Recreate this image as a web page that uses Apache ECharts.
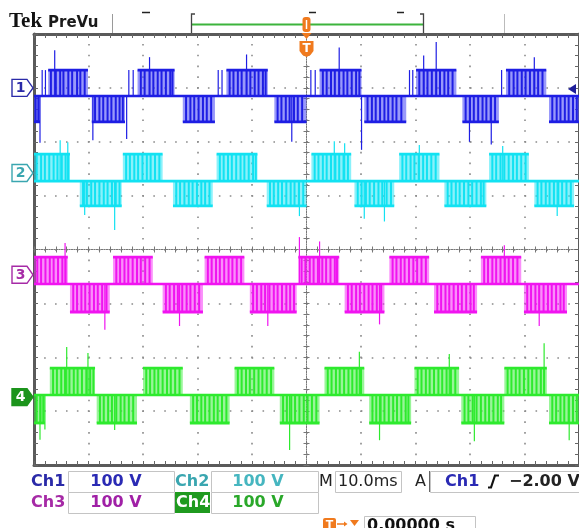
<!DOCTYPE html>
<html><head><meta charset="utf-8">
<script src="https://cdn.jsdelivr.net/npm/echarts@6/dist/echarts.min.js"></script>
<style>html,body{margin:0;padding:0;background:#fff;}#c{width:579px;height:528px;}</style>
</head><body><div id="c"></div>
<script>
// ---------------- data ----------------
// time axis: 10 ms/div, trigger at centre
const timeMin = -50, timeMax = 50, timeDiv = 10;
const vertDivs = 4;            // +/-4 divisions
const voltsPerDiv = 100;
const channelNames = ['Ch1', 'Ch2', 'Ch3', 'Ch4'];
const channelScales = ['100 V', '100 V', '100 V', '100 V'];
const groundDiv = [3.0, 1.42, -0.47, -2.74];   // channel ground markers (divisions)
const timebaseText = '10.0ms';
const triggerSource = 'Ch1';
const triggerLevelV = -2.0;
const triggerLevelText = '\u22122.00 V';
const triggerPosText = '0.00000 s';

// levels in volts: [high, mid, low]
const ch1Levels = [33, -15, -63];
const ch2Levels = [35, -15, -61];
const ch3Levels = [33, -17, -69];
const ch4Levels = [54, 4, -48];

// switching blocks: [start ms, end ms, +1 = high block / -1 = low block]
const ch1Blocks = [[-50,-48.9,-1],[-47.4,-40.1,1],[-39.4,-33.3,-1],[-31.0,-24.2,1],[-22.7,-16.8,-1],[-14.7,-7.1,1],[-5.9,0.0,-1],[2.4,10.1,1],[10.6,18.3,-1],[20.1,27.5,1],[28.6,35.3,-1],[36.6,44.0,1],[44.5,50,-1]];
const ch2Blocks = [[-50,-43.4,1],[-41.6,-33.9,-1],[-33.7,-26.4,1],[-24.5,-17.2,-1],[-16.5,-9.0,1],[-7.3,0.0,-1],[0.9,8.2,1],[8.8,16.1,-1],[17.0,24.4,1],[25.3,33.0,-1],[33.5,40.8,1],[41.8,49.1,-1]];
const ch3Blocks = [[-50,-43.8,1],[-43.4,-36.1,-1],[-35.5,-28.2,1],[-26.4,-19.0,-1],[-18.7,-11.4,1],[-10.4,-1.8,-1],[-1.5,6.0,1],[7.0,14.3,-1],[15.2,22.5,1],[23.4,31.3,-1],[32.0,39.4,1],[39.9,47.8,-1]];
const ch4Blocks = [[-50,-48.0,-1],[-47.1,-38.8,1],[-38.5,-31.1,-1],[-30.0,-22.7,1],[-21.4,-14.1,-1],[-13.2,-5.9,1],[-4.9,2.4,-1],[3.3,10.6,1],[11.5,19.2,-1],[19.8,28.0,1],[28.4,36.3,-1],[36.3,44.1,1],[44.5,50,-1]];

// PWM switching instants (ms) inside the blocks: signal drops back to the mid level
const ch1Teeth = [-49.7,-49.2,-46.9,-46.0,-45.2,-44.6,-43.7,-43.0,-42.1,-41.5,-40.7,-38.8,-38.0,-37.3,-36.5,-35.8,-35.0,-34.3,-33.7,-30.4,-29.7,-28.8,-28.1,-27.3,-26.6,-25.8,-25.0,-24.6,-22.1,-21.3,-20.6,-19.8,-19.0,-18.3,-17.5,-14.1,-13.4,-12.6,-11.9,-11.0,-10.3,-9.5,-8.8,-8.0,-7.5,-5.3,-4.6,-3.8,-3.1,-2.3,-1.6,-0.8,3.0,3.7,4.5,5.2,6.0,6.8,7.5,8.3,9.1,9.7,11.2,12.0,12.7,13.5,14.3,15.0,15.8,16.5,17.4,20.7,21.5,22.2,23.0,23.8,24.5,25.3,26.0,26.8,29.2,30.0,30.7,31.5,32.3,33.0,33.8,34.6,37.2,38.0,38.7,39.5,40.2,41.0,41.8,42.5,43.3,45.1,45.9,46.6,47.4,48.1,48.9,49.6];
const ch2Teeth = [-49.5,-48.7,-48.0,-47.2,-46.4,-45.7,-44.9,-44.2,-43.7,-41.0,-40.3,-39.5,-38.8,-38.0,-37.2,-36.5,-35.7,-35.0,-34.3,-33.1,-32.4,-31.6,-30.9,-30.1,-29.3,-28.6,-27.8,-27.0,-23.9,-23.2,-22.4,-21.6,-20.9,-20.1,-19.3,-18.6,-17.8,-15.9,-15.2,-14.4,-13.7,-12.9,-12.1,-11.4,-10.6,-9.8,-9.3,-6.7,-6.0,-5.2,-4.5,-3.7,-2.9,-2.2,-1.4,-0.6,1.5,2.2,3.0,3.7,4.5,5.3,6.0,6.8,7.6,9.4,10.1,10.9,11.6,12.4,13.2,13.9,14.7,15.5,17.6,18.3,19.1,19.8,20.6,21.4,22.1,22.9,23.7,25.9,26.6,27.4,28.1,28.9,29.7,30.4,31.2,32.0,32.5,34.1,34.8,35.6,36.3,37.1,37.9,38.6,39.4,40.2,42.4,43.1,43.9,44.6,45.4,46.2,46.9,47.7,48.5];
const ch3Teeth = [-49.4,-48.7,-47.9,-47.1,-46.4,-45.6,-44.8,-44.2,-42.8,-42.1,-41.3,-40.6,-39.8,-39.0,-38.3,-37.5,-36.7,-34.9,-34.2,-33.4,-32.7,-31.9,-31.1,-30.4,-29.6,-28.8,-25.8,-25.1,-24.3,-23.6,-22.8,-22.0,-21.3,-20.5,-19.7,-18.1,-17.4,-16.6,-15.9,-15.1,-14.3,-13.6,-12.8,-12.0,-9.8,-9.1,-8.3,-7.6,-6.8,-6.0,-5.3,-4.5,-3.7,-3.0,-2.3,-0.9,-0.2,0.6,1.3,2.1,2.9,3.6,4.4,5.2,5.6,7.6,8.3,9.1,9.8,10.6,11.4,12.1,12.9,13.7,15.8,16.5,17.3,18.0,18.8,19.6,20.3,21.1,21.9,24.0,24.7,25.5,26.2,27.0,27.8,28.5,29.3,30.1,30.7,32.6,33.3,34.1,34.8,35.6,36.4,37.1,37.9,38.7,40.5,41.2,42.0,42.7,43.5,44.3,45.0,45.8,46.6,47.2];
const ch4Teeth = [-49.5,-48.8,-48.3,-46.5,-45.8,-45.0,-44.3,-43.5,-42.7,-42.0,-41.2,-40.4,-39.7,-39.1,-37.9,-37.2,-36.4,-35.7,-34.9,-34.1,-33.4,-32.6,-31.8,-29.4,-28.7,-27.9,-27.2,-26.4,-25.6,-24.9,-24.1,-23.3,-20.8,-20.1,-19.3,-18.6,-17.8,-17.0,-16.3,-15.5,-14.7,-12.6,-11.9,-11.1,-10.4,-9.6,-8.8,-8.1,-7.3,-6.5,-4.3,-3.6,-2.8,-2.1,-1.3,-0.5,0.2,1.0,1.8,3.9,4.6,5.4,6.1,6.9,7.7,8.4,9.2,10.0,12.1,12.8,13.6,14.3,15.1,15.9,16.6,17.4,18.2,18.7,20.4,21.1,21.9,22.6,23.4,24.2,24.9,25.7,26.5,27.3,29.0,29.7,30.5,31.2,32.0,32.8,33.5,34.3,35.1,35.7,36.9,37.6,38.4,39.1,39.9,40.7,41.4,42.2,43.0,43.6,45.1,45.8,46.6,47.3,48.1,48.9,49.6];

// isolated pulses / overshoot spikes from the mid level: [ms, volts]
const ch1Spikes = [[-48.5,33],[-47.9,33],[-32.6,33],[-31.8,33],[-16.2,33],[-15.5,33],[0.8,33],[1.6,33],[18.9,33],[19.5,33],[35.8,33],[-46.2,70],[-28.8,57],[-11.0,62],[6.0,75],[21.5,60],[23.8,85],[41.8,57],[-48.9,-102],[-39.2,-97],[-33.0,-95],[-2.7,-100],[10.1,-115],[29.9,-100],[33.9,-105]];
const ch2Spikes = [[-45.2,61],[-43.8,57],[5.1,59],[7.0,55],[20.7,52],[36.0,50],[-40.7,-78],[-35.2,-106],[-1.3,-80],[10.6,-85],[14.3,-90],[46.0,-80]];
const ch3Spikes = [[-44.3,59],[-1.3,70],[2.4,62],[36.3,55],[-37.0,-102],[-23.3,-95],[-7.1,-95],[13.4,-92],[42.7,-95]];
const ch4Spikes = [[-44.0,93],[-40.1,82],[9.7,84],[26.2,80],[43.6,100],[-48.9,-79],[-48.0,-60],[-35.2,-61],[-3.1,-98],[13.4,-80],[30.8,-82],[48.2,-80]];

// ---------------- styling ----------------
const traceColors = ['#1e1ee4', '#12e2f2', '#f014f0', '#2eea2e'];
const traceLight  = ['rgba(70,70,245,0.55)', 'rgba(30,228,245,0.52)', 'rgba(245,40,245,0.52)', 'rgba(60,235,60,0.52)'];
const labelColors = ['#2a2aa8', '#3aa6b0', '#a62aa6', '#22a022'];
const orange = '#f07a1e';
const FONT = '"DejaVu Sans"';

const chans = [
  {levels: ch1Levels, blocks: ch1Blocks, teeth: ch1Teeth, spikes: ch1Spikes},
  {levels: ch2Levels, blocks: ch2Blocks, teeth: ch2Teeth, spikes: ch2Spikes},
  {levels: ch3Levels, blocks: ch3Blocks, teeth: ch3Teeth, spikes: ch3Spikes},
  {levels: ch4Levels, blocks: ch4Blocks, teeth: ch4Teeth, spikes: ch4Spikes}
];

function levelAt(ch, t) {
  for (const b of ch.blocks) if (t >= b[0] && t <= b[1]) return b[2] > 0 ? ch.levels[0] : ch.levels[2];
  return ch.levels[1];
}

const chart = echarts.init(document.getElementById('c'), null, {renderer: 'canvas', width: 579, height: 528});

const gratGray = '#8a8a8a';
function borderX(pos) {
  return {
    type: 'value', min: timeMin, max: timeMax, interval: timeDiv, position: pos, gridIndex: 0,
    axisLine: {show: true, onZero: false, lineStyle: {color: '#5a5a5a', width: 3}},
    axisTick: {show: true, inside: true, length: 4, lineStyle: {color: '#666', width: 1}},
    minorTick: {show: true, splitNumber: 5, length: 4, lineStyle: {color: '#666', width: 1}},
    axisLabel: {show: false},
    splitLine: pos === 'bottom' ? {show: true, lineStyle: {color: gratGray, width: 1.6, type: [1.6, 9.18], dashOffset: 0.8}} : {show: false}
  };
}
function borderY(pos) {
  return {
    type: 'value', min: -vertDivs, max: vertDivs, interval: 1, position: pos, gridIndex: 0,
    axisLine: {show: true, onZero: false, lineStyle: {color: '#5a5a5a', width: 3}},
    axisTick: {show: true, inside: true, length: 4, lineStyle: {color: '#666', width: 1}},
    minorTick: {show: true, splitNumber: 5, length: 4, lineStyle: {color: '#666', width: 1}},
    axisLabel: {show: false},
    splitLine: pos === 'left' ? {show: true, lineStyle: {color: gratGray, width: 1.6, type: [1.6, 9.32], dashOffset: 0.8}} : {show: false}
  };
}
function centerX(inside) {
  return {
    type: 'value', min: timeMin, max: timeMax, interval: timeDiv, position: 'bottom', gridIndex: 0,
    axisLine: {show: true, onZero: true, onZeroAxisIndex: 0, lineStyle: {color: '#777', width: 1, type: [1, 1.5]}},
    axisTick: {show: true, inside: inside, length: 3, lineStyle: {color: '#777', width: 1}},
    minorTick: {show: true, splitNumber: 5, length: 3, lineStyle: {color: '#777', width: 1}},
    axisLabel: {show: false}, splitLine: {show: false}
  };
}
function centerY(inside) {
  return {
    type: 'value', min: -vertDivs, max: vertDivs, interval: 1, position: 'left', gridIndex: 0,
    axisLine: {show: true, onZero: true, onZeroAxisIndex: 0, lineStyle: {color: '#777', width: 1, type: [1, 1.5]}},
    axisTick: {show: true, inside: inside, length: 3, lineStyle: {color: '#777', width: 1}},
    minorTick: {show: true, splitNumber: 5, length: 3, lineStyle: {color: '#777', width: 1}},
    axisLabel: {show: false}, splitLine: {show: false}
  };
}
function chanY(i) {
  return {
    type: 'value', gridIndex: 0, position: 'left', show: false,
    min: (-vertDivs - groundDiv[i]) * voltsPerDiv, max: (vertDivs - groundDiv[i]) * voltsPerDiv,
    axisLine: {show: false, onZero: false}, axisTick: {show: false}, axisLabel: {show: false}, splitLine: {show: false}
  };
}

const series = [];
chans.forEach((ch, i) => {
  const yIdx = 4 + i;
  const mid = ch.levels[1];
  const color = traceColors[i];
  series.push({
    type: 'custom', xAxisIndex: 0, yAxisIndex: yIdx, silent: true, animation: false, z: 3,
    data: ch.blocks.map(b => [b[0], b[1], b[2] > 0 ? ch.levels[0] : ch.levels[2]]),
    encode: {x: [0, 1], y: 2},
    renderItem: (params, api) => {
      const a = api.coord([api.value(0), api.value(2)]);
      const b = api.coord([api.value(1), mid]);
      return {type: 'group', children: [
        {type: 'rect', shape: {x: a[0], y: Math.min(a[1], b[1]), width: b[0] - a[0], height: Math.abs(b[1] - a[1])}, style: {fill: traceLight[i]}},
        {type: 'line', shape: {x1: a[0], y1: a[1], x2: b[0], y2: a[1]}, style: {stroke: color, lineWidth: 2.8}}
      ]};
    }
  });
  series.push({
    type: 'line', xAxisIndex: 0, yAxisIndex: yIdx, silent: true, animation: false, z: 4,
    symbol: 'none', data: [[timeMin, mid], [timeMax, mid]],
    lineStyle: {color: color, width: 2.6}
  });
  const strokes = ch.teeth.map(t => [t, levelAt(ch, t), 2.0]).concat(ch.spikes.map(s => [s[0], s[1], 1.2]));
  series.push({
    type: 'custom', xAxisIndex: 0, yAxisIndex: yIdx, silent: true, animation: false, z: 5,
    data: strokes, encode: {x: 0, y: 1},
    renderItem: (params, api) => {
      const p0 = api.coord([api.value(0), mid]);
      const p1 = api.coord([api.value(0), api.value(1)]);
      return {type: 'line', shape: {x1: p0[0], y1: p0[1], x2: p1[0], y2: p1[1]}, style: {stroke: color, lineWidth: api.value(2)}};
    }
  });
});

chart.setOption({
  animation: false,
  backgroundColor: '#ffffff',
  grid: {left: 34, top: 34, width: 546, height: 431, containLabel: false, show: false},
  xAxis: [borderX('bottom'), borderX('top'), centerX(true), centerX(false)],
  yAxis: [borderY('left'), borderY('right'), centerY(true), centerY(false), chanY(0), chanY(1), chanY(2), chanY(3)],
  series: series
});

// ---------------- decorations (scope UI) ----------------
const g = [];
const cx = chart.convertToPixel({xAxisIndex: 0}, 0);
g.push({type: 'text', x: 9, y: 32, style: {text: 'Tek', font: 'bold 21px "Liberation Serif"', fill: '#111', verticalAlign: 'bottom'}});
g.push({type: 'text', x: 48, y: 31, style: {text: 'PreVu', font: 'bold 15px ' + FONT, fill: '#1a1a1a', verticalAlign: 'bottom'}});
g.push({type: 'line', shape: {x1: 112.5, y1: 14, x2: 112.5, y2: 35}, style: {stroke: '#9a9a9a', lineWidth: 1}});
g.push({type: 'line', shape: {x1: 504.5, y1: 14, x2: 504.5, y2: 35}, style: {stroke: '#bbbbbb', lineWidth: 1}});
g.push({type: 'line', shape: {x1: 191, y1: 24.5, x2: 424, y2: 24.5}, style: {stroke: '#3cb43c', lineWidth: 2}});
g.push({type: 'polyline', shape: {points: [[195, 14], [191.5, 14], [191.5, 34], [195, 34]]}, style: {stroke: '#444', lineWidth: 1.3, fill: null}});
g.push({type: 'polyline', shape: {points: [[420, 14], [423.5, 14], [423.5, 34], [420, 34]]}, style: {stroke: '#444', lineWidth: 1.3, fill: null}});
[[142, 150], [309, 316], [397, 404]].forEach(d => g.push({type: 'line', shape: {x1: d[0], y1: 12.5, x2: d[1], y2: 12.5}, style: {stroke: '#222', lineWidth: 1.5}}));
g.push({type: 'rect', shape: {x: cx - 4, y: 17, width: 8, height: 15, r: 3}, style: {fill: orange}, z: 10});
g.push({type: 'line', shape: {x1: cx, y1: 20, x2: cx, y2: 29}, style: {stroke: '#fff', lineWidth: 1.5}, z: 11});
g.push({type: 'polygon', shape: {points: [[cx - 5, 33], [cx + 5, 33], [cx, 39]]}, style: {fill: orange}, z: 10});
g.push({type: 'polygon', shape: {points: [[cx - 7, 41], [cx + 7, 41], [cx + 7, 51], [cx + 4, 55], [cx, 57], [cx - 4, 55], [cx - 7, 51]]}, style: {fill: orange}, z: 10});
g.push({type: 'text', x: cx, y: 48.5, style: {text: 'T', font: 'bold 12px ' + FONT, fill: '#fff', align: 'center', verticalAlign: 'middle'}, z: 11});

const markerDigits = ['1', '2', '3', '4'];
groundDiv.forEach((gd, i) => {
  const y = chart.convertToPixel({yAxisIndex: 0}, gd);
  const filled = i === 3;
  g.push({type: 'polygon', shape: {points: [[12, y - 8.5], [27, y - 8.5], [33, y], [27, y + 8.5], [12, y + 8.5]]},
    style: {fill: filled ? '#1c941c' : '#ffffff', stroke: filled ? '#1c941c' : labelColors[i], lineWidth: 1.4}, z: 10});
  g.push({type: 'text', x: 20.5, y: y + 0.5, style: {text: markerDigits[i], font: 'bold 14px ' + FONT, fill: filled ? '#fff' : labelColors[i], align: 'center', verticalAlign: 'middle'}, z: 11});
});
const ty = chart.convertToPixel({yAxisIndex: 4}, triggerLevelV);
g.push({type: 'polygon', shape: {points: [[568, ty], [576, ty - 5], [576, ty + 5]]}, style: {fill: '#1e1e9a'}, z: 10});

function box(x, y, w, h) { g.push({type: 'rect', shape: {x: x + 0.5, y: y + 0.5, width: w, height: h}, style: {fill: '#fff', stroke: '#c4c4c4', lineWidth: 1}}); }
function txt(s, x, y, color, font, align) { g.push({type: 'text', x: x, y: y, style: {text: s, font: font, fill: color, align: align || 'left', verticalAlign: 'middle'}, z: 5}); }
const bold16 = 'bold 16px ' + FONT, reg16 = '16px ' + FONT;
box(68, 471, 106, 21); box(211, 471, 107, 21);
box(68, 492, 106, 21); box(211, 492, 107, 21);
box(335, 471, 66, 21); box(430, 471, 160, 21);
box(364, 516, 111, 20);
txt(channelNames[0], 31, 481.5, labelColors[0], bold16);
txt(channelScales[0], 116, 481.5, '#2a2ab4', bold16, 'center');
txt(channelNames[1], 175, 481.5, labelColors[1], bold16);
txt(channelScales[1], 258, 481.5, '#46b6c0', bold16, 'center');
txt(channelNames[2], 31, 502.5, labelColors[2], bold16);
txt(channelScales[2], 116, 502.5, '#a020a6', bold16, 'center');
g.push({type: 'rect', shape: {x: 175, y: 492, width: 35, height: 21}, style: {fill: '#1f9a1f'}});
txt(channelNames[3], 176, 502.5, '#ffffff', bold16);
txt(channelScales[3], 258, 502.5, '#2aa82a', bold16, 'center');
txt('M', 319, 481.5, '#222', reg16);
txt(timebaseText, 338, 481.5, '#222', reg16);
txt('A', 415, 481.5, '#222', reg16);
g.push({type: 'line', shape: {x1: 429.5, y1: 471, x2: 429.5, y2: 492}, style: {stroke: '#666', lineWidth: 1}});
txt(triggerSource, 445, 481.5, '#2a2ab4', bold16);
g.push({type: 'polyline', shape: {points: [[488, 487.5], [491, 487.5], [495, 475.5], [499, 475.5]]}, style: {stroke: '#111', lineWidth: 2.2, fill: null}});
txt(triggerLevelText, 509, 481.5, '#222', bold16);
g.push({type: 'rect', shape: {x: 323, y: 518, width: 13, height: 14, r: [2, 2, 0, 0]}, style: {fill: orange}});
txt('T', 329.5, 525, '#fff', 'bold 11px ' + FONT, 'center');
g.push({type: 'line', shape: {x1: 337, y1: 524, x2: 345, y2: 524}, style: {stroke: orange, lineWidth: 1.5}});
g.push({type: 'polygon', shape: {points: [[344, 521.5], [347.5, 524], [344, 526.5]]}, style: {fill: orange}});
g.push({type: 'polygon', shape: {points: [[350, 520], [359, 520], [354.5, 526]]}, style: {fill: orange}});
txt(triggerPosText, 367, 525.5, '#111', bold16);

chart.setOption({graphic: {elements: g}});
</script></body></html>
